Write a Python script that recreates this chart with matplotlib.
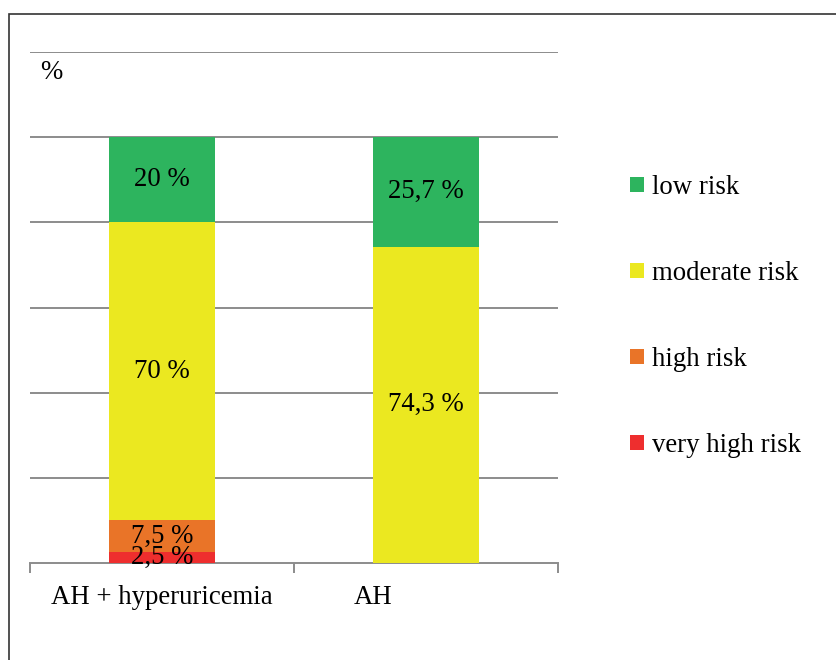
import numpy as np
import matplotlib
matplotlib.use('Agg')
import matplotlib.pyplot as plt
from matplotlib.patches import Rectangle

plt.rcParams['font.family'] = ['Liberation Serif', 'DejaVu Serif']

groups = ['AH + hyperuricemia', 'AH']
risks = ['very high risk', 'high risk', 'moderate risk', 'low risk']
very_high = [2.5, 0.0]
high = [7.5, 0.0]
moderate = [70.0, 74.3]
low = [20.0, 25.7]
labels_txt = [['2,5 %', '7,5 %', '70 %', '20 %'],
              ['', '', '74,3 %', '25,7 %']]
colors = ['#ee2e2e', '#e97428', '#ebe820', '#2db45e']
fs = 19.3

fig = plt.figure(figsize=(8.37, 6.6), dpi=100)
ax = fig.add_axes([30/837, 97/660, 528/837, 511/660])

# outer frame
fig.patches.append(Rectangle((9/837, -0.1), 1.0, (660-14)/660 + 0.1,
                             transform=fig.transFigure, fill=False,
                             edgecolor='#333333', linewidth=1.2))

pos = np.arange(len(groups))
series = [very_high, high, moderate, low]
bottom = np.zeros(len(groups))
for vals, c, name in zip(series, colors, risks):
    ax.bar(pos, vals, width=0.405, bottom=bottom, color=c, label=name, zorder=3)
    bottom += np.array(vals)

# value labels (small segments overlap a bit, as in the source)
for gi in range(len(groups)):
    cum = 0
    for si, vals in enumerate(series):
        v = vals[gi]
        if v > 0:
            ax.text(pos[gi], cum + v / 2, labels_txt[gi][si], ha='center', va='center',
                    fontsize=fs, zorder=4)
        cum += v

ax.set_xlim(-0.5, 1.5)
ax.set_ylim(0, 120)
ax.set_yticks([20, 40, 60, 80, 100, 120])
ax.yaxis.grid(True, color='#8c8c8c', linewidth=1.4, zorder=0)
ax.tick_params(axis='y', length=0, labelleft=False)
for s in ['left', 'right', 'top']:
    ax.spines[s].set_visible(False)
ax.spines['bottom'].set_color('#8c8c8c')
ax.spines['bottom'].set_linewidth(1.4)
ax.set_xticks([-0.5, 0.5, 1.5])
ax.tick_params(axis='x', length=7, width=1.4, color='#8c8c8c', labelbottom=False)

# category labels
ax.text(0, -8, groups[0], ha='center', va='center', fontsize=fs)
ax.text(0.8, -8, groups[1], ha='center', va='center', fontsize=fs)

ax.text(-0.463, 115.3, '%', ha='left', va='center', fontsize=fs)

handles, labs = ax.get_legend_handles_labels()
leg = fig.legend(handles[::-1], labs[::-1], loc='upper left',
                 bbox_to_anchor=(606/837, 1 - 151/660), frameon=False,
                 fontsize=fs, handlelength=0.5, handleheight=0.5,
                 handletextpad=0.3, labelspacing=2.27)

fig.savefig('out.png', dpi=100)
